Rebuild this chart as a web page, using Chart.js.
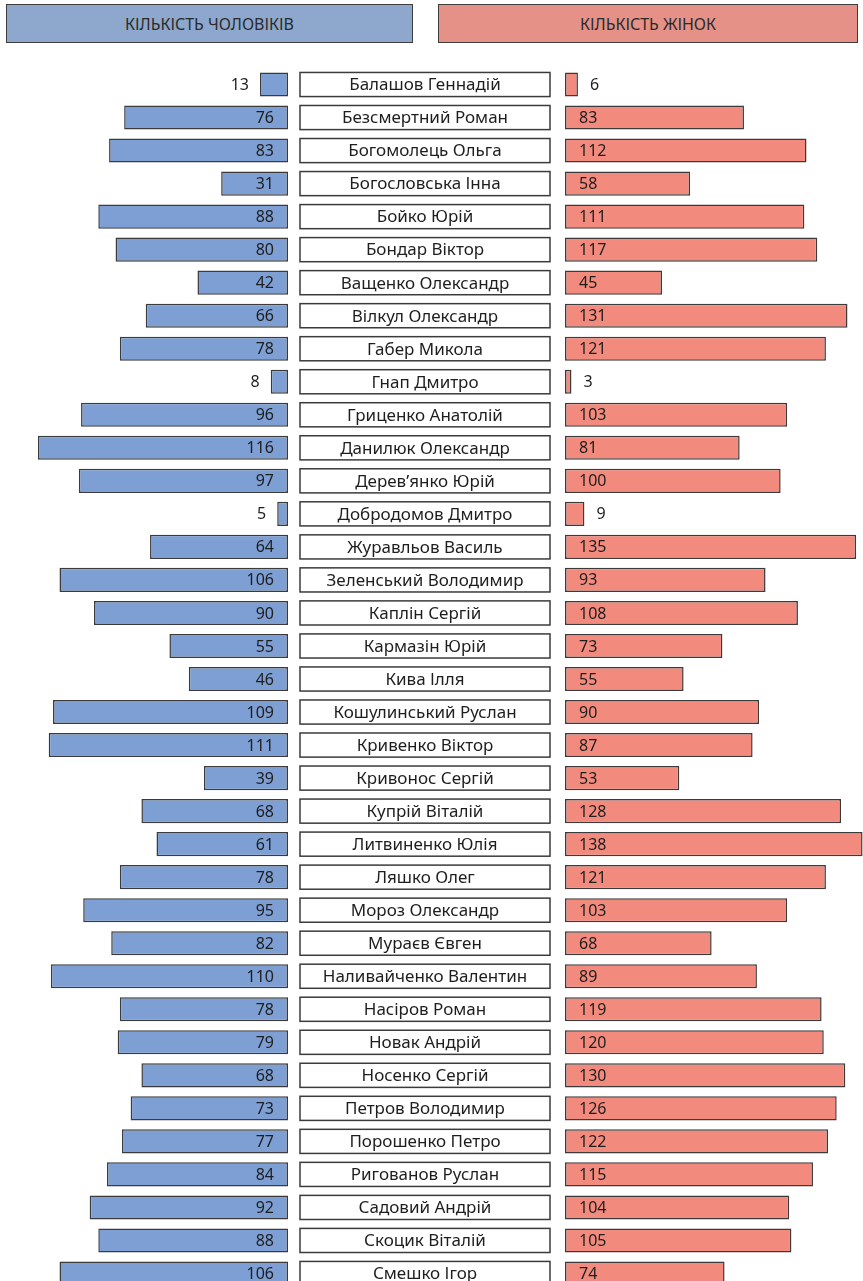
<!DOCTYPE html>
<html>
<head>
<meta charset="utf-8"/>
<style>
  html,body{margin:0;padding:0;background:#fff;width:863px;height:1281px;overflow:hidden;position:relative;}
  .hdr{position:absolute;top:4px;height:39px;box-sizing:border-box;border:1.5px solid #3d3d3d;
       font:16px "Noto Sans",sans-serif;color:#2a2a2a;display:flex;align-items:center;justify-content:center;}
  #hM{left:6px;width:407px;background:#8da7cd;}
  #hF{left:438px;width:420px;background:#e59187;}
  #wrapM{position:absolute;left:0;top:68px;width:556px;height:1222px;}
  #wrapF{position:absolute;left:563px;top:68px;width:300px;height:1222px;}
</style>
</head>
<body>
  <div class="hdr" id="hM">КІЛЬКІСТЬ ЧОЛОВІКІВ</div>
  <div class="hdr" id="hF">КІЛЬКІСТЬ ЖІНОК</div>
  <div id="wrapM"><canvas id="cM"></canvas></div>
  <div id="wrapF"><canvas id="cF"></canvas></div>

  <script src="https://cdn.jsdelivr.net/npm/chart.js@4.4.0/dist/chart.umd.min.js"></script>
  <script>
    const names = [
      "Балашов Геннадій", "Безсмертний Роман", "Богомолець Ольга", "Богословська Інна",
      "Бойко Юрій", "Бондар Віктор", "Ващенко Олександр", "Вілкул Олександр",
      "Габер Микола", "Гнап Дмитро", "Гриценко Анатолій", "Данилюк Олександр",
      "Дерев’янко Юрій", "Добродомов Дмитро", "Журавльов Василь", "Зеленський Володимир",
      "Каплін Сергій", "Кармазін Юрій", "Кива Ілля", "Кошулинський Руслан",
      "Кривенко Віктор", "Кривонос Сергій", "Купрій Віталій", "Литвиненко Юлія",
      "Ляшко Олег", "Мороз Олександр", "Мураєв Євген", "Наливайченко Валентин",
      "Насіров Роман", "Новак Андрій", "Носенко Сергій", "Петров Володимир",
      "Порошенко Петро", "Ригованов Руслан", "Садовий Андрій", "Скоцик Віталій",
      "Смешко Ігор"
    ];
    const men = [13, 76, 83, 31, 88, 80, 42, 66, 78, 8, 96, 116, 97, 5, 64, 106, 90, 55, 46,
                 109, 111, 39, 68, 61, 78, 95, 82, 110, 78, 79, 68, 73, 77, 84, 92, 88, 106];
    const women = [6, 83, 112, 58, 111, 117, 45, 131, 121, 3, 103, 81, 100, 9, 135, 93, 108, 73, 55,
                   90, 87, 53, 128, 138, 121, 103, 68, 89, 119, 120, 130, 126, 122, 115, 104, 105, 74];

    const FONT = '"Noto Sans", sans-serif';
    const INK = "#1e1e1e";

    // numbers inside the bar, or just outside it when the bar is too short
    const valueLabels = {
      id: "valueLabels",
      afterDatasetsDraw(chart, args, opts) {
        const ctx = chart.ctx;
        const vals = chart.data.datasets[0].data;
        ctx.save();
        ctx.font = "16px " + FONT;
        ctx.fillStyle = INK;
        ctx.textBaseline = "middle";
        chart.getDatasetMeta(0).data.forEach((bar, i) => {
          const v = vals[i], small = v < 20;
          if (opts.side === "left") {
            ctx.textAlign = "right";
            ctx.fillText(v, small ? bar.x - 11 : bar.base - 14, bar.y + 1);
          } else {
            ctx.textAlign = "left";
            ctx.fillText(v, small ? bar.x + 12 : bar.base + 14, bar.y + 1);
          }
        });
        ctx.restore();
      }
    };

    // white name boxes in the y-axis area of the left chart
    const nameBoxes = {
      id: "nameBoxes",
      beforeDatasetsDraw(chart) {
        const ctx = chart.ctx, y = chart.scales.y;
        const bars = chart.getDatasetMeta(0).data;
        const x0 = y.left + 12, w = y.width - 18;
        ctx.save();
        ctx.font = "17px " + FONT;
        ctx.textAlign = "center";
        ctx.textBaseline = "middle";
        y.ticks.forEach((t, i) => {
          const cy = y.getPixelForTick(i), h = bars[i].height;
          ctx.fillStyle = "#fff";
          ctx.strokeStyle = "#3b3b3b";
          ctx.lineWidth = 1.5;
          ctx.fillRect(x0, cy - h / 2, w, h);
          ctx.strokeRect(x0, cy - h / 2, w, h);
          ctx.fillStyle = INK;
          ctx.fillText(y.getLabelForValue(t.value), x0 + w / 2, cy + 1);
        });
        ctx.restore();
      }
    };

    const barStyle = {
      borderWidth: 1.5,
      borderColor: "#3b3b3b",
      borderSkipped: false,
      barPercentage: 0.73,
      categoryPercentage: 1
    };

    new Chart(document.getElementById("cM"), {
      type: "bar",
      data: {
        labels: names,
        datasets: [{ data: men, backgroundColor: "#7d9fd3", ...barStyle }]
      },
      options: {
        indexAxis: "y",
        responsive: true, maintainAspectRatio: false, animation: false,
        layout: { padding: 0 },
        plugins: { legend: { display: false }, tooltip: { enabled: false }, valueLabels: { side: "left" } },
        scales: {
          x: { type: "linear", reverse: true, min: 0, max: 133.6, display: false },
          y: {
            type: "category", position: "right",
            grid: { display: false, drawTicks: false }, border: { display: false },
            ticks: { display: false },
            afterFit(s) { s.width = 268; }
          }
        }
      },
      plugins: [nameBoxes, valueLabels]
    });

    new Chart(document.getElementById("cF"), {
      type: "bar",
      data: {
        labels: names,
        datasets: [{ data: women, backgroundColor: "#f28b7e", ...barStyle }]
      },
      options: {
        indexAxis: "y",
        responsive: true, maintainAspectRatio: false, animation: false,
        layout: { padding: { left: 2, right: 0, top: 0, bottom: 0 } },
        plugins: { legend: { display: false }, tooltip: { enabled: false }, valueLabels: { side: "right" } },
        scales: {
          x: { type: "linear", min: 0, max: 138.2, display: false },
          y: { type: "category", display: false }
        }
      },
      plugins: [valueLabels]
    });
  </script>
</body>
</html>
